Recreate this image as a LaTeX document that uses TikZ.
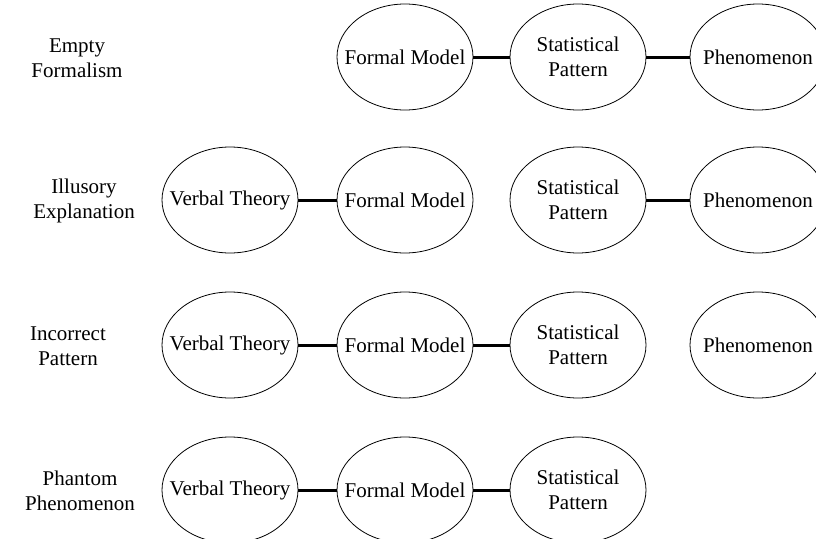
\documentclass[tikz,border=0pt]{standalone}
\usepackage{fontspec}
\setmainfont{Liberation Serif}
\usetikzlibrary{shapes.geometric}
\tikzset{
  box/.style={draw, ellipse, line width=0.8pt, minimum width=136pt, minimum height=106pt,
    inner sep=0pt, label={[txt]center:#1}},
  txt/.style={align=center, inner sep=0pt, font=\fontsize{21}{25}\selectfont},
  rowlabel/.style={txt},
  link/.style={line width=3pt}
}
\begin{document}
\begin{tikzpicture}[x=1pt, y=-1pt]
\clip (0,0) rectangle (816,538);
\pgfmathsetmacro{\vt}{230}
\pgfmathsetmacro{\fm}{405}
\pgfmathsetmacro{\sp}{578}
\pgfmathsetmacro{\ph}{758}
% Empty Formalism
\node[rowlabel] (lab1) at (77,58) {Empty\\Formalism};
\node[box=Formal Model] (fm1) at (\fm,57) {};
\node[box={Statistical\\Pattern}] (sp1) at (\sp,57) {};
\node[box=Phenomenon] (ph1) at (\ph,57) {};
\draw[link] (fm1)--(sp1);
\draw[link] (sp1)--(ph1);
% Illusory Explanation
\node[rowlabel] (lab2) at (84,201) {Illusory\\Explanation};
\node[box=Verbal Theory] (vt2) at (\vt,200) {};
\node[box=Formal Model] (fm2) at (\fm,200) {};
\node[box={Statistical\\Pattern}] (sp2) at (\sp,200) {};
\node[box=Phenomenon] (ph2) at (\ph,200) {};
\draw[link] (vt2)--(fm2);
\draw[link] (sp2)--(ph2);
% Incorrect Pattern
\node[rowlabel] (lab3) at (68,346) {Incorrect\\Pattern};
\node[box=Verbal Theory] (vt3) at (\vt,345) {};
\node[box=Formal Model] (fm3) at (\fm,345) {};
\node[box={Statistical\\Pattern}] (sp3) at (\sp,345) {};
\node[box=Phenomenon] (ph3) at (\ph,345) {};
\draw[link] (vt3)--(fm3);
\draw[link] (fm3)--(sp3);
% Phantom Phenomenon
\node[rowlabel] (lab4) at (80,491) {Phantom\\Phenomenon};
\node[box=Verbal Theory] (vt4) at (\vt,490) {};
\node[box=Formal Model] (fm4) at (\fm,490) {};
\node[box={Statistical\\Pattern}] (sp4) at (\sp,490) {};
\draw[link] (vt4)--(fm4);
\draw[link] (fm4)--(sp4);
\end{tikzpicture}
\end{document}
